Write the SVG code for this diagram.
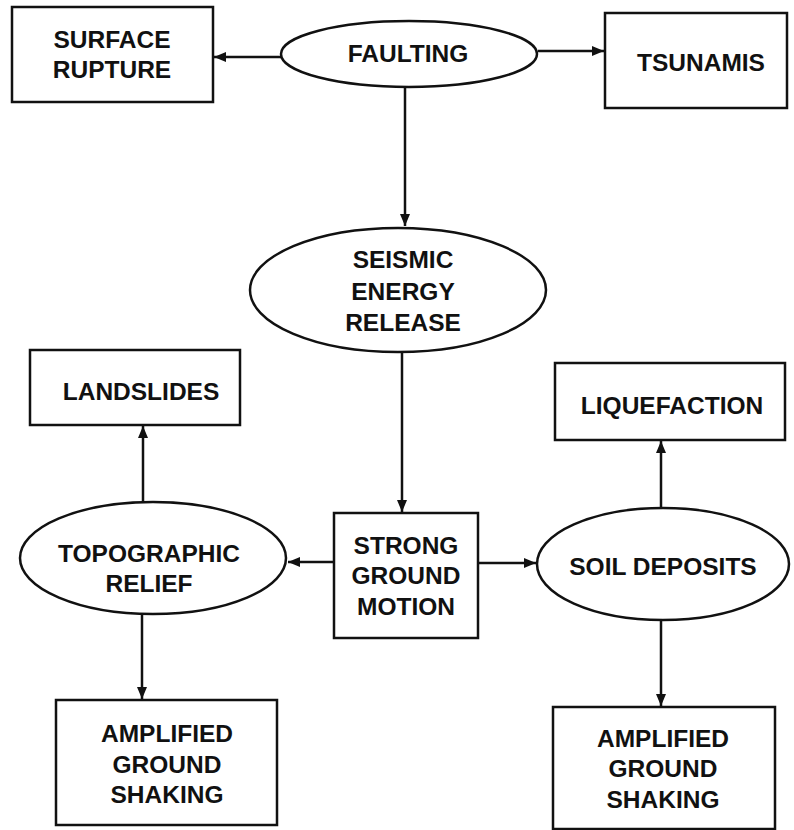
<svg xmlns="http://www.w3.org/2000/svg" width="794" height="830" viewBox="0 0 794 830">
<style>
.box{fill:#fff;stroke:#111;stroke-width:2.5}
.ell{fill:#fff;stroke:#111;stroke-width:2.5}
.t{font-family:"Liberation Sans",Arial,sans-serif;font-weight:bold;font-size:24.5px;fill:#111;text-anchor:middle}
.c{stroke:#111;stroke-width:2.5;fill:none;marker-end:url(#ah)}
</style>
<defs>
<marker id="ah" markerUnits="userSpaceOnUse" markerWidth="12" markerHeight="10" viewBox="0 0 12 10" refX="12" refY="5" orient="auto">
<path d="M0,0 L12,5 L0,10 Z" fill="#111"/>
</marker>
</defs>
<g id="connectors">
<line class="c" x1="281" y1="57" x2="214" y2="57"/>
<line class="c" x1="538" y1="51" x2="604" y2="51"/>
<line class="c" x1="405" y1="88" x2="405" y2="226"/>
<line class="c" x1="402" y1="352" x2="402" y2="512"/>
<line class="c" x1="334" y1="562" x2="288" y2="562"/>
<line class="c" x1="478" y1="563" x2="536" y2="563"/>
<line class="c" x1="143" y1="502" x2="143" y2="426"/>
<line class="c" x1="661" y1="508" x2="661" y2="441"/>
<line class="c" x1="142" y1="614" x2="142" y2="699"/>
<line class="c" x1="661" y1="620" x2="661" y2="706"/>
</g>
<g id="surface-rupture">
<rect class="box" x="12" y="7" width="201" height="95"/>
<text class="t" x="112" y="48">SURFACE</text>
<text class="t" x="112" y="78">RUPTURE</text>
</g>
<g id="faulting">
<ellipse class="ell" cx="409" cy="54" rx="128" ry="33"/>
<text class="t" x="408" y="62">FAULTING</text>
</g>
<g id="tsunamis">
<rect class="box" x="605" y="13" width="182" height="95"/>
<text class="t" x="701" y="71">TSUNAMIS</text>
</g>
<g id="seismic-energy-release">
<ellipse class="ell" cx="398" cy="290" rx="148" ry="62"/>
<text class="t" x="403" y="268">SEISMIC</text>
<text class="t" x="403" y="300">ENERGY</text>
<text class="t" x="403" y="331">RELEASE</text>
</g>
<g id="landslides">
<rect class="box" x="30" y="350" width="210" height="75"/>
<text class="t" x="141" y="400">LANDSLIDES</text>
</g>
<g id="liquefaction">
<rect class="box" x="555" y="363" width="230" height="77"/>
<text class="t" x="672" y="414">LIQUEFACTION</text>
</g>
<g id="topographic-relief">
<ellipse class="ell" cx="153" cy="558" rx="133" ry="56"/>
<text class="t" x="149" y="562">TOPOGRAPHIC</text>
<text class="t" x="149" y="592">RELIEF</text>
</g>
<g id="strong-ground-motion">
<rect class="box" x="334" y="513" width="144" height="125"/>
<text class="t" x="406" y="554">STRONG</text>
<text class="t" x="406" y="584">GROUND</text>
<text class="t" x="406" y="615">MOTION</text>
</g>
<g id="soil-deposits">
<ellipse class="ell" cx="663" cy="564" rx="126" ry="56"/>
<text class="t" x="663" y="575">SOIL DEPOSITS</text>
</g>
<g id="amplified-ground-shaking-1">
<rect class="box" x="56" y="700" width="221" height="125"/>
<text class="t" x="167" y="742">AMPLIFIED</text>
<text class="t" x="167" y="773">GROUND</text>
<text class="t" x="167" y="803">SHAKING</text>
</g>
<g id="amplified-ground-shaking-2">
<rect class="box" x="553" y="707" width="222" height="122"/>
<text class="t" x="663" y="747">AMPLIFIED</text>
<text class="t" x="663" y="777">GROUND</text>
<text class="t" x="663" y="808">SHAKING</text>
</g>
</svg>
